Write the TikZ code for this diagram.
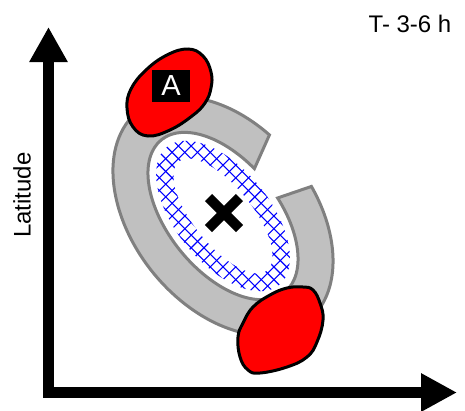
\documentclass[tikz,border=0pt]{standalone}
\usepackage{fontspec}
\setmainfont{Liberation Sans}
\usetikzlibrary{arrows.meta,shapes.misc}
\definecolor{ringfill}{HTML}{C0C0C0}
\definecolor{ringedge}{HTML}{808080}
\definecolor{blobred}{HTML}{FF0000}
\tikzset{
  ringstyle/.style={fill=ringfill, draw=ringedge, line width=3},
  bluegrid/.style={draw=blue, line width=1.1},
  blobstyle/.style={fill=blobred, draw=black, line width=3},
  axisstyle/.style={line width=11, line join=miter, {Triangle[width=36pt,length=35pt]}-{Triangle[width=36pt,length=36pt]}},
  labelstyle/.style={font=\fontsize{24}{28}\selectfont, inner sep=0}
}
\begin{document}
\begin{tikzpicture}[x=1pt,y=1pt]
\useasboundingbox (0,0) rectangle (465,-410);

% gray C-shaped ring
\begin{scope}[shift={(223,-216)}, rotate=-51]
  \filldraw[ringstyle] (104.5:135 and 90)
     arc[start angle=104.5, end angle=436, x radius=135, y radius=90]
     -- (78:98 and 55)
     arc[start angle=78, end angle=-260, x radius=98, y radius=55] -- cycle;
  % blue cross-stitch band
  \begin{scope}
    \clip (0,0) ellipse[x radius=89, y radius=47];
    \foreach \k in {-16,...,16} {
      \draw[bluegrid, shift={(6:{\k*9})}] (96:-120) -- (96:120);
      \draw[bluegrid, shift={(96:{\k*9})}] (6:-120) -- (6:120);
    }
  \end{scope}
  \fill[white] (0,0) ellipse[x radius=70, y radius=29];
\end{scope}

% centre mark
\node[cross out, draw=black, line width=10, minimum size=21, inner sep=0] (centre) at (224,-213) {};

% upper red blob with label A
\draw[blobstyle] plot[smooth cycle, tension=0.7] coordinates {
  (188,-49) (203,-56) (211,-72) (211,-88) (205,-103) (192,-116) (170,-130)
  (148,-136) (133,-127) (127,-108) (131,-89) (146,-70) (167,-55)};
\node[fill=black, text=white, font=\fontsize{29}{32}\selectfont, minimum width=38, minimum height=32, inner sep=0] (alabel) at (171,-86) {A};

% lower red blob
\draw[blobstyle] plot[smooth cycle, tension=0.7] coordinates {
  (303,-287) (313,-290) (320,-303) (323,-320) (317,-342) (307,-357) (287,-367)
  (260,-373) (248,-370) (240,-357) (238,-337) (243,-323) (253,-307) (270,-295) (287,-288)};

% axes
\coordinate (ytip) at (48.5,-27);
\coordinate (origin) at (48.5,-392.5);
\coordinate (xtip) at (457,-392.5);
\draw[axisstyle] (ytip) -- (origin) -- (xtip);

% labels
\node[labelstyle, rotate=90] (lat) at (22,-195) {Latitude};
\node[labelstyle] (title) at (410,-24) {T- 3-6 h};
\end{tikzpicture}
\end{document}
